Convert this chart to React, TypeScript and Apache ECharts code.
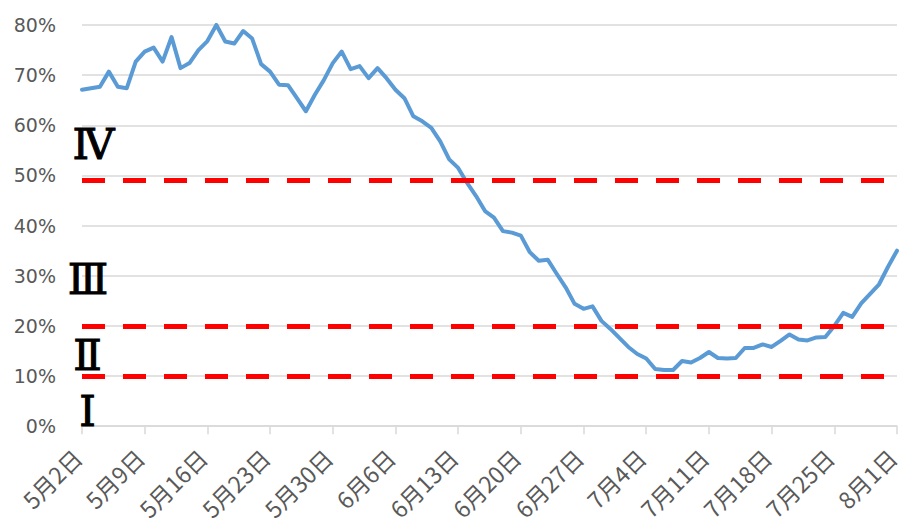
import React, { useEffect, useRef } from "react";
import * as echarts from "echarts";

const startMonth = 5;
const startDay = 2;
const monthLengths: Record<number, number> = { 5: 31, 6: 30, 7: 31, 8: 31 };
const dayCount = 92;

function buildCategories(): string[] {
  const out: string[] = [];
  let m = startMonth;
  let d = startDay;
  for (let i = 0; i < dayCount; i++) {
    out.push(`${m}月${d}日`);
    d++;
    if (d > monthLengths[m]) {
      d = 1;
      m++;
    }
  }
  return out;
}

const categories = buildCategories();

const rateValues = [
  67.1, 67.4, 67.7, 70.7, 67.7, 67.4, 72.7, 74.7, 75.5, 72.7,
  77.6, 71.4, 72.4, 75.0, 76.8, 80.0, 76.7, 76.3, 78.8, 77.3,
  72.2, 70.7, 68.1, 68.0, 65.4, 62.8, 66.1, 69.0, 72.4, 74.7,
  71.2, 71.8, 69.4, 71.4, 69.4, 67.1, 65.4, 61.8, 60.8, 59.5,
  56.8, 53.2, 51.5, 48.5, 45.9, 42.9, 41.6, 38.9, 38.6, 38.0,
  34.7, 33.0, 33.2, 30.4, 27.7, 24.4, 23.4, 23.9, 21.0, 19.4,
  17.6, 15.8, 14.4, 13.5, 11.4, 11.2, 11.2, 13.0, 12.7, 13.6,
  14.8, 13.6, 13.5, 13.6, 15.6, 15.6, 16.3, 15.8, 17.0, 18.3,
  17.3, 17.1, 17.7, 17.8, 20.0, 22.6, 21.8, 24.5, 26.4, 28.3,
  31.8, 35.0,
];

const thresholdValues = [49, 20, 10];

const zoneLabels = ["Ⅳ", "Ⅲ", "Ⅱ", "Ⅰ"];
const zoneLabelY = [144, 279, 355, 411];
const zoneLabelX = [93.5, 88, 87.5, 87.5];

export default function App() {
  const ref = useRef<HTMLDivElement>(null);

  useEffect(() => {
    if (!ref.current) return;
    const chart = echarts.init(ref.current, undefined, { renderer: "svg" });
    chart.setOption({
      animation: false,
      backgroundColor: "#ffffff",
      grid: { left: 82, right: 6, top: 25, bottom: 95 },
      xAxis: {
        type: "category",
        data: categories,
        boundaryGap: false,
        axisLine: { lineStyle: { color: "#d9d9d9", width: 1.5 } },
        axisTick: {
          show: true,
          interval: 6,
          length: 8,
          lineStyle: { color: "#d9d9d9", width: 1.5 },
        },
        axisLabel: {
          interval: 6,
          rotate: 45,
          margin: 22,
          padding: [0, 7, 0, 0],
          color: "#595959",
          fontSize: 23,
          fontFamily: "Noto Sans CJK JP",
        },
        splitLine: { show: false },
      },
      yAxis: {
        type: "value",
        min: 0,
        max: 80,
        interval: 10,
        axisLine: { show: false },
        axisTick: { show: false },
        axisLabel: {
          formatter: "{value}%",
          color: "#595959",
          fontSize: 19,
          margin: 26,
          fontFamily: "DejaVu Sans",
        },
        splitLine: { lineStyle: { color: "#d9d9d9", width: 1.5 } },
      },
      series: [
        {
          type: "line",
          data: rateValues,
          symbol: "none",
          lineStyle: { color: "#5b9bd5", width: 4, cap: "round", join: "round" },
          markLine: {
            silent: true,
            symbol: "none",
            label: { show: false },
            lineStyle: { color: "#ff0000", width: 5, type: [23, 18] },
            data: thresholdValues.map((v) => ({ yAxis: v })),
          },
          z: 3,
        },
      ],
      graphic: zoneLabels.map((t, i) => ({
        type: "text",
        x: zoneLabelX[i],
        y: zoneLabelY[i],
        z: 10,
        style: {
          text: t,
          fill: "#000000",
          stroke: "#000000",
          lineWidth: 1,
          fontSize: 42,
          fontFamily: "DejaVu Serif",
          textAlign: "center",
          textVerticalAlign: "middle",
        },
      })),
    });
    return () => chart.dispose();
  }, []);

  return (
    <div
      ref={ref}
      style={{ position: "fixed", left: 0, top: 0, width: 903, height: 523 }}
    />
  );
}
